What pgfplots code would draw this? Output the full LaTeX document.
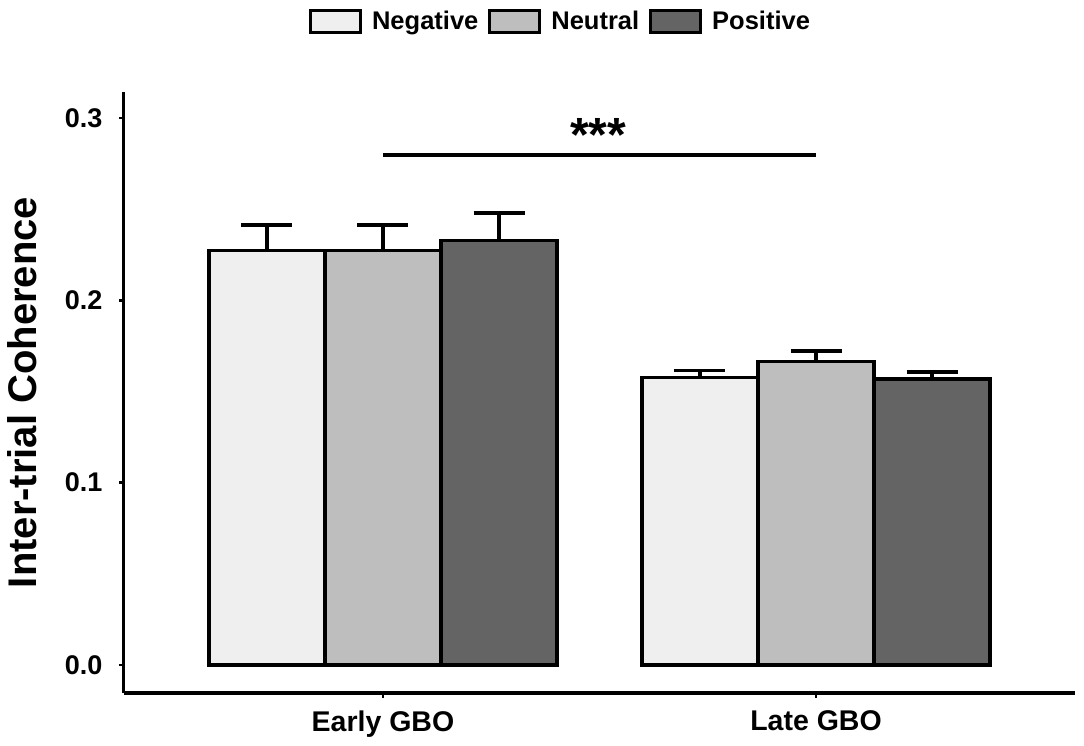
\documentclass[border=0pt]{standalone}
\usepackage{pgfplots}
\pgfplotsset{compat=1.18}
\usepackage{fontspec}
\setmainfont{Liberation Sans}
\definecolor{cneg}{HTML}{EFEFEF}
\definecolor{cneu}{HTML}{BEBEBE}
\definecolor{cpos}{HTML}{646464}
\begin{document}
\begin{tikzpicture}[x=1bp,y=1bp]
\useasboundingbox (-124bp,-53bp) rectangle (960bp,693bp);
\begin{axis}[
  at={(0,0)}, anchor=south west,
  scale only axis, width=951bp, height=601bp,
  xmin=-0.598, xmax=1.598,
  ymin=-0.0154, ymax=0.3143,
  axis x line*=bottom, axis y line*=left,
  axis line style={line width=3bp,-},
  xtick={0,1}, xticklabels={Early GBO, Late GBO},
  ytick={0,0.1,0.2,0.3},
  yticklabels={0.0,0.1,0.2,0.3},
  tick align=outside, major tick length=5bp,
  tick style={line width=2.5bp,black},
  x tick label style={font=\fontsize{28.5bp}{32bp}\selectfont\bfseries, yshift=-9bp},
  y tick label style={font=\fontsize{27bp}{32bp}\selectfont\bfseries, xshift=-13bp},
  /pgf/number format/assume math mode=true,
  ylabel={\fontsize{40bp}{48bp}\selectfont\bfseries Inter-trial Coherence},
  every axis y label/.style={at={(axis description cs:-0.107,0.5)}, rotate=90, anchor=center},
  ybar, bar shift=0pt, bar width=0.268,
  every axis plot/.append style={draw=black, line width=3.5bp},
  error bars/error mark=|,
  error bars/error bar style={line width=3.5bp, black},
  error bars/error mark options={black, line width=3.5bp, mark size=25.5bp},
  legend columns=3,
  legend style={draw=none, fill=none, at={(rel axis cs:0.458,1.118)}, anchor=center,
    font=\fontsize{25.5bp}{30bp}\selectfont\bfseries,
    nodes={inner sep=0pt},
    /tikz/every odd column/.append style={column sep=10bp},
    /tikz/every even column/.append style={column sep=10bp}},
  legend image code/.code={\draw[#1, line width=3bp] (0bp,-11bp) rectangle (50bp,11bp);},
  clip=false,
]
\addplot[fill=cneg, error bars/.cd, y dir=plus, y explicit]
  coordinates {(-0.268,0.2274) +- (0,0.0140) (0.732,0.1578) +- (0,0.0038)};
\addlegendentry{Negative}
\addplot[fill=cneu, error bars/.cd, y dir=plus, y explicit]
  coordinates {(0,0.2274) +- (0,0.0140) (1,0.1664) +- (0,0.0057)};
\addlegendentry{Neutral}
\addplot[fill=cpos, error bars/.cd, y dir=plus, y explicit]
  coordinates {(0.268,0.2328) +- (0,0.0150) (1.268,0.1569) +- (0,0.0038)};
\addlegendentry{Positive}
\draw[line width=3.5bp] (axis cs:0,0.2798) -- (axis cs:1,0.2798);
\node[anchor=base, font=\fontsize{48bp}{52bp}\selectfont\bfseries] at (axis cs:0.497,0.2818) {***};
\end{axis}
\end{tikzpicture}
\end{document}
